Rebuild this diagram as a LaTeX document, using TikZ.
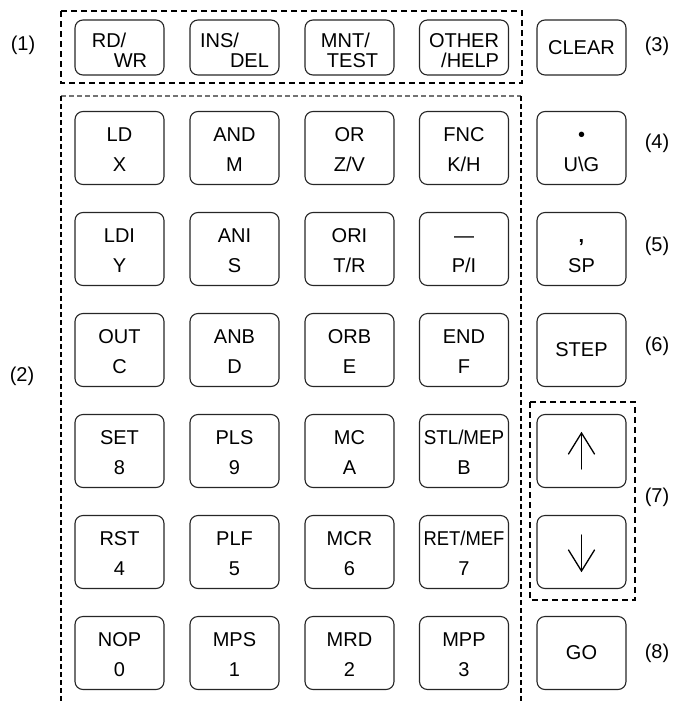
\documentclass[tikz,border=0pt]{standalone}
\usepackage{fontspec}
\setmainfont{Liberation Sans}
\usepackage{graphicx}
\usetikzlibrary{calc}
\newcommand\kt[2]{\rule{0pt}{20.7pt}#1\\#2\rule[-4.2pt]{0pt}{4.2pt}}
\newcommand\tk[2]{\rule{0pt}{23.5pt}#1\\#2\rule[-4pt]{0pt}{4pt}}
\begin{document}
\begin{tikzpicture}[x=1pt,y=-1pt,
  key/.style={draw=black!85, line width=1.1pt, rounded corners=8pt,
    minimum width=89pt, minimum height=73pt, inner sep=0pt, align=center,
    font=\fontsize{20}{29.5}\selectfont},
  topkey/.style={key, minimum height=55pt, font=\fontsize{20}{20.5}\selectfont},
  lab/.style={font=\fontsize{20}{24}\selectfont, inner sep=0pt},
  dbox/.style={draw=black, line width=1.5pt, dash pattern=on 6pt off 4pt},
  dline/.style={line width=1.3pt, dash pattern=on 5pt off 3pt},
  arr/.style={line width=1.3pt, line cap=round, line join=miter},
]
\useasboundingbox (0,0) rectangle (673,702);
\def\ca{119.5}\def\cb{234.5}\def\cc{349.5}\def\cd{464}\def\ce{581.5}
\def\ro{47.5}\def\ra{148}\def\rb{249}\def\rc{350}\def\rd{451}\def\rf{552}\def\rg{653}

% dashed frames
\draw[dbox] (61,11) rectangle (522,83);
\draw[dline, draw=black!55] (61,96) -- (521,96);
\draw[dline, draw=black] (61,96) -- (61,702);
\draw[dline, draw=black] (521,96) -- (521,702);
\draw[dbox] (530,402) rectangle (635,600);

% top row
\node[topkey, align=left] (rdwr) at (\ca,\ro) {\tk{RD/}{\hspace*{22pt}WR}};
\node[topkey, align=left] (insdel) at (\cb,\ro) {\tk{INS/}{\hspace*{30pt}DEL}};
\node[topkey, align=left] (mnt) at (\cc,\ro) {\tk{MNT/}{\hspace*{6pt}TEST}};
\node[topkey, align=right] (other) at (\cd,\ro) {\tk{OTHER}{/HELP}};
\node[topkey] (clear) at (\ce,\ro) {CLEAR};

% row 1
\node[key] (ld) at (\ca,\ra) {\kt{LD}{X}};
\node[key] (and) at (\cb,\ra) {\kt{AND}{M}};
\node[key] (or) at (\cc,\ra) {\kt{OR}{Z/V}};
\node[key] (fnc) at (\cd,\ra) {\kt{FNC}{K/H}};
\node[key] (dot) at (\ce,\ra) {\kt{\textbullet}{U\textbackslash G}};
% row 2
\node[key] (ldi) at (\ca,\rb) {\kt{LDI}{Y}};
\node[key] (ani) at (\cb,\rb) {\kt{ANI}{S}};
\node[key] (ori) at (\cc,\rb) {\kt{ORI}{T/R}};
\node[key] (pi) at (\cd,\rb) {\kt{—}{P/I}};
\node[key] (sp) at (\ce,\rb) {\kt{\textbf{,}}{SP}};
% row 3
\node[key] (out) at (\ca,\rc) {\kt{OUT}{C}};
\node[key] (anb) at (\cb,\rc) {\kt{ANB}{D}};
\node[key] (orb) at (\cc,\rc) {\kt{ORB}{E}};
\node[key] (end) at (\cd,\rc) {\kt{END}{F}};
\node[key] (step) at (\ce,\rc) {STEP};
% row 4
\node[key] (set) at (\ca,\rd) {\kt{SET}{8}};
\node[key] (pls) at (\cb,\rd) {\kt{PLS}{9}};
\node[key] (mc) at (\cc,\rd) {\kt{MC}{A}};
\node[key] (stl) at (\cd,\rd) {\kt{\scalebox{0.94}[1]{STL/MEP}}{B}};
\node[key] (up) at (\ce,\rd) {};
% row 5
\node[key] (rst) at (\ca,\rf) {\kt{RST}{4}};
\node[key] (plf) at (\cb,\rf) {\kt{PLF}{5}};
\node[key] (mcr) at (\cc,\rf) {\kt{MCR}{6}};
\node[key] (ret) at (\cd,\rf) {\kt{\scalebox{0.92}[1]{RET/MEF}}{7}};
\node[key] (down) at (\ce,\rf) {};
% row 6
\node[key] (nop) at (\ca,\rg) {\kt{NOP}{0}};
\node[key] (mps) at (\cb,\rg) {\kt{MPS}{1}};
\node[key] (mrd) at (\cc,\rg) {\kt{MRD}{2}};
\node[key] (mpp) at (\cd,\rg) {\kt{MPP}{3}};
\node[key] (go) at (\ce,\rg) {GO};

% arrows
\draw[arr] ($(up)+(0,18)$) -- ($(up)+(0,-18)$);
\draw[arr] ($(up)+(-13,3)$) -- ($(up)+(0,-18)$) -- ($(up)+(13,3)$);
\draw[arr] ($(down)+(0,-17)$) -- ($(down)+(0,19)$);
\draw[arr] ($(down)+(-13,-2)$) -- ($(down)+(0,19)$) -- ($(down)+(13,-2)$);

% labels
\node[lab] (l1) at (23,45) {(1)};
\node[lab] (l2) at (22,376) {(2)};
\node[lab] (l3) at (657,46) {(3)};
\node[lab] (l4) at (657,143) {(4)};
\node[lab] (l5) at (657,246) {(5)};
\node[lab] (l6) at (657,346) {(6)};
\node[lab] (l7) at (657,497) {(7)};
\node[lab] (l8) at (657,653) {(8)};
\end{tikzpicture}
\end{document}
